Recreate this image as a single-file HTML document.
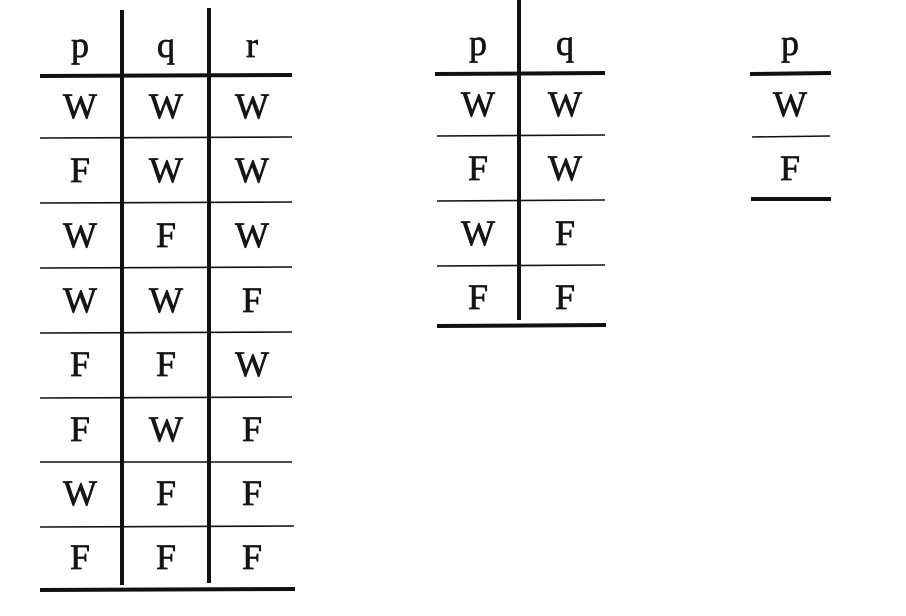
<!DOCTYPE html>
<html><head><meta charset="utf-8"><style>
html,body{margin:0;padding:0;background:#fff;}
svg{display:block}
text{font-family:"Liberation Serif",serif;font-size:36px;fill:#151515;stroke:#151515;stroke-width:0.7;text-anchor:middle;}
</style></head><body>
<svg width="906" height="616" viewBox="0 0 906 616" xmlns="http://www.w3.org/2000/svg">
<g stroke="#111" fill="none">
<line x1="122" y1="10" x2="122" y2="585" stroke-width="4"/>
<line x1="209" y1="8" x2="209" y2="583" stroke-width="4"/>
<line x1="40" y1="76" x2="292" y2="75" stroke-width="4"/>
<line x1="40" y1="590" x2="295" y2="589" stroke-width="4"/>
<g stroke-width="1.6">
<line x1="40" y1="138" x2="292" y2="137"/>
<line x1="40" y1="203" x2="292" y2="202"/>
<line x1="40" y1="268" x2="292" y2="267"/>
<line x1="40" y1="333" x2="292" y2="332"/>
<line x1="40" y1="398" x2="292" y2="397"/>
<line x1="40" y1="462" x2="292" y2="462"/>
<line x1="40" y1="527" x2="294" y2="526"/>
</g>
<line x1="519" y1="0" x2="519" y2="320" stroke-width="4"/>
<line x1="435" y1="74" x2="605" y2="73" stroke-width="4"/>
<line x1="437" y1="326" x2="606" y2="325" stroke-width="4"/>
<g stroke-width="1.6">
<line x1="437" y1="136" x2="605" y2="135"/>
<line x1="437" y1="201" x2="605" y2="200"/>
<line x1="437" y1="266" x2="605" y2="265"/>
</g>
<line x1="750" y1="74" x2="831" y2="73" stroke-width="4"/>
<line x1="752" y1="137" x2="830" y2="136" stroke-width="1.6"/>
<line x1="751" y1="199" x2="831" y2="199" stroke-width="4"/>
</g>
<g>
<text x="80" y="57">p</text><text x="166" y="57">q</text><text x="252" y="57">r</text>
<text x="80" y="118">W</text><text x="166" y="118">W</text><text x="252" y="118">W</text>
<text x="80" y="182">F</text><text x="166" y="182">W</text><text x="252" y="182">W</text>
<text x="80" y="247">W</text><text x="166" y="247">F</text><text x="252" y="247">W</text>
<text x="80" y="312">W</text><text x="166" y="312">W</text><text x="252" y="312">F</text>
<text x="80" y="376">F</text><text x="166" y="376">F</text><text x="252" y="376">W</text>
<text x="80" y="441">F</text><text x="166" y="441">W</text><text x="252" y="441">F</text>
<text x="80" y="505">W</text><text x="166" y="505">F</text><text x="252" y="505">F</text>
<text x="80" y="569">F</text><text x="166" y="569">F</text><text x="252" y="569">F</text>

<text x="478" y="55">p</text><text x="565" y="55">q</text>
<text x="478" y="116">W</text><text x="565" y="116">W</text>
<text x="478" y="180">F</text><text x="565" y="180">W</text>
<text x="478" y="245">W</text><text x="565" y="245">F</text>
<text x="478" y="309">F</text><text x="565" y="309">F</text>

<text x="790" y="55">p</text>
<text x="790" y="116">W</text>
<text x="790" y="180">F</text>
</g>
</svg>
</body></html>
